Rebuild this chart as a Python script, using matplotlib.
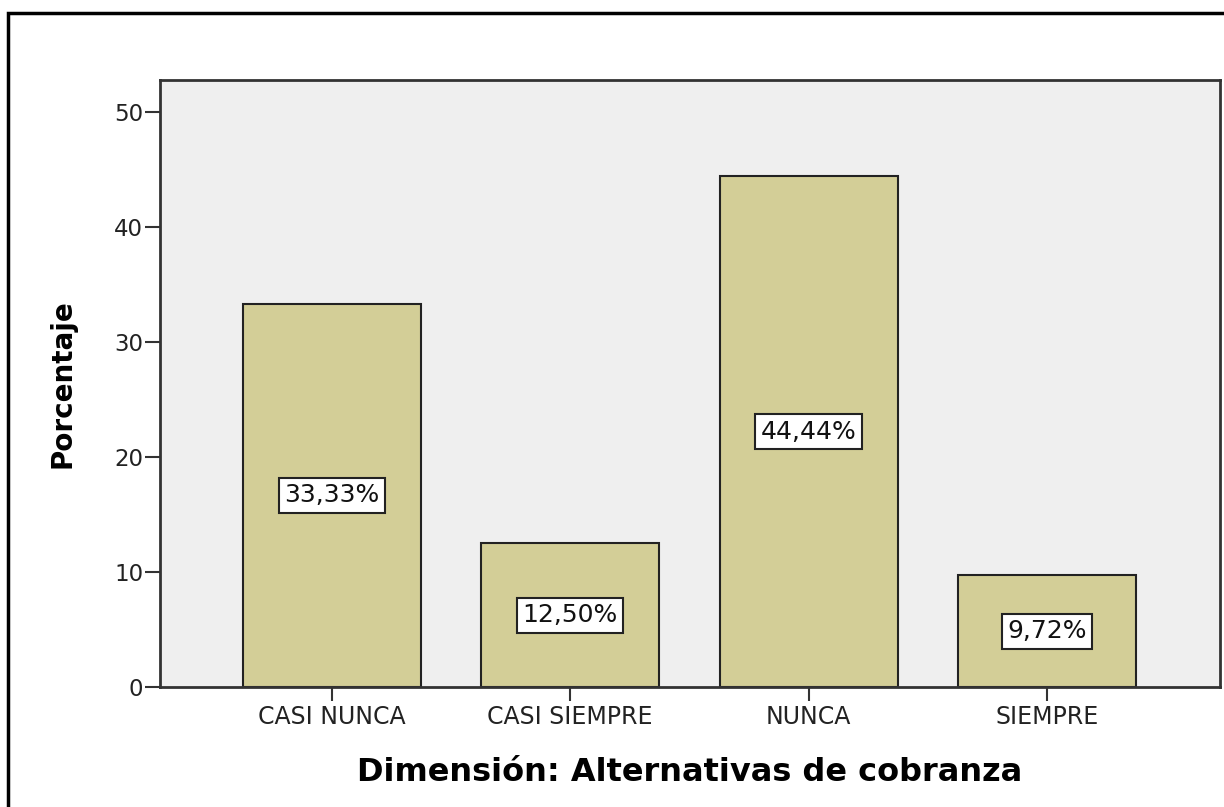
import matplotlib.pyplot as plt
from matplotlib.patches import Rectangle

# datos
categorias = ['CASI NUNCA', 'CASI SIEMPRE', 'NUNCA', 'SIEMPRE']
porcentajes = [33.33, 12.50, 44.44, 9.72]
etiquetas = ['33,33%', '12,50%', '44,44%', '9,72%']
yticks = [0, 10, 20, 30, 40, 50]

fig = plt.figure(figsize=(12.24, 8.07), dpi=100)
ax = fig.add_axes([160/1224, 1 - 687/807, 1060/1224, 607/807])
ax.set_facecolor('#efefef')

x = range(len(categorias))
ax.bar(x, porcentajes, width=0.746, color='#d3ce97', edgecolor='#222222', linewidth=1.5, zorder=2)

for i, v in enumerate(porcentajes):
    ax.text(i, v / 2, etiquetas[i], ha='center', va='center', fontsize=18,
            family='DejaVu Sans', color='#111111', zorder=3,
            bbox=dict(boxstyle='square,pad=0.22', facecolor='white', edgecolor='#222222', linewidth=1.5))

ax.set_xlim(-0.72, 3.725)
ax.set_ylim(0, 52.8)
ax.set_yticks(yticks)
ax.set_yticklabels([str(t) for t in yticks], family='DejaVu Sans', fontsize=16.5, color='#222222')
ax.set_xticks(list(x))
ax.set_xticklabels(categorias, family='DejaVu Sans', fontsize=17, color='#222222')
ax.tick_params(axis='y', length=11, width=1.5, color='#333333', pad=1)
ax.tick_params(axis='x', length=10, width=1.5, color='#333333', pad=3)

for s in ax.spines.values():
    s.set_linewidth(2)
    s.set_color('#333333')

ax.set_ylabel('Porcentaje', family='DejaVu Sans', fontweight='bold', fontsize=20, labelpad=27)
ax.set_xlabel('Dimensión: Alternativas de cobranza', family='DejaVu Sans', fontweight='bold',
              fontsize=23, labelpad=20)

# marco exterior
fig.patches.append(Rectangle((8/1224, -0.05), 1.1, 1 - 13/807 + 0.05, transform=fig.transFigure,
                             fill=False, edgecolor='black', linewidth=2.5))

fig.savefig('out.png', dpi=100)
